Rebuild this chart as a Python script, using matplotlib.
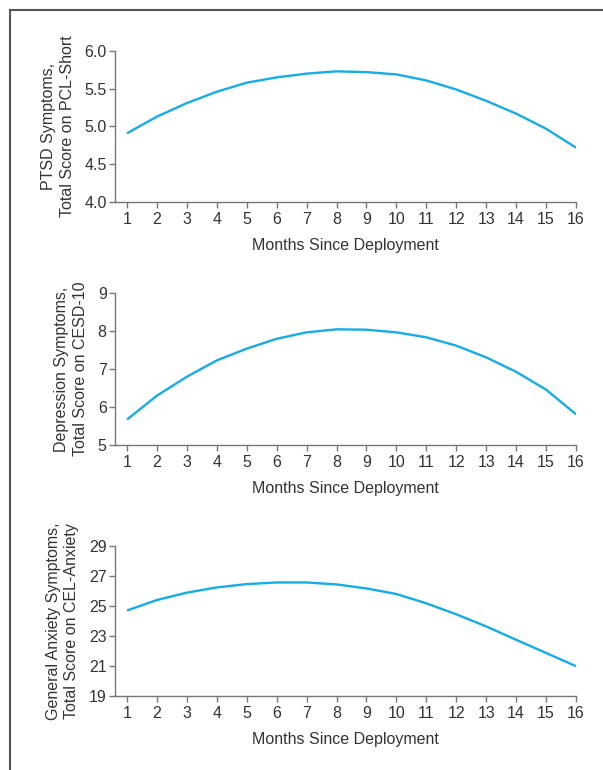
import matplotlib
matplotlib.use('Agg')
import matplotlib.pyplot as plt
from matplotlib.lines import Line2D

plt.rcParams['font.family'] = ['Liberation Sans', 'DejaVu Sans']

months = list(range(1, 17))

ptsd = [4.91, 5.13, 5.31, 5.46, 5.58, 5.65, 5.70, 5.73,
        5.72, 5.69, 5.61, 5.49, 5.34, 5.17, 4.97, 4.72]
depression = [5.67, 6.30, 6.80, 7.23, 7.54, 7.80, 7.97, 8.05,
              8.04, 7.97, 7.84, 7.62, 7.31, 6.93, 6.46, 5.81]
anxiety = [24.70, 25.40, 25.89, 26.24, 26.46, 26.57, 26.57, 26.44,
           26.17, 25.80, 25.18, 24.45, 23.64, 22.75, 21.87, 20.99]

ylabels = ['PTSD Symptoms,\nTotal Score on PCL-Short',
           'Depression Symptoms,\nTotal Score on CESD-10',
           'General Anxiety Symptoms,\nTotal Score on CEL-Anxiety']
yticks = [[4.0, 4.5, 5.0, 5.5, 6.0],
          [5, 6, 7, 8, 9],
          [19, 21, 23, 25, 27, 29]]
yticklabels = [['4.0', '4.5', '5.0', '5.5', '6.0'],
               ['5', '6', '7', '8', '9'],
               ['19', '21', '23', '25', '27', '29']]
series = [ptsd, depression, anxiety]

line_color = '#14ade8'
text_color = '#333333'
spine_color = '#777777'

fig = plt.figure(figsize=(6.03, 7.70), dpi=100)

bottoms = [0.7377, 0.4221, 0.0961]
heights = [0.1961, 0.1970, 0.1948]

for i in range(3):
    ax = fig.add_axes([0.1907, bottoms[i], 0.7645, heights[i]])
    ax.plot(months, series[i], color=line_color, linewidth=1.7,
            solid_capstyle='butt', solid_joinstyle='round')

    ax.set_xlim(0.6, 16)
    ax.set_ylim(yticks[i][0], yticks[i][-1])
    ax.set_xticks(months)
    ax.set_yticks(yticks[i])
    ax.set_yticklabels(yticklabels[i])

    for side in ['top', 'right']:
        ax.spines[side].set_visible(False)
    for side in ['left', 'bottom']:
        ax.spines[side].set_color(spine_color)
        ax.spines[side].set_linewidth(1.0)

    ax.tick_params(axis='both', colors=spine_color, length=4, width=1.0,
                   labelsize=11.5, labelcolor=text_color)
    ax.tick_params(axis='x', pad=3)
    ax.tick_params(axis='y', pad=2)

    ax.set_xlabel('Months Since Deployment', fontsize=11.5,
                  color=text_color, labelpad=8)
    ax.set_ylabel(ylabels[i], fontsize=11.5, color=text_color,
                  labelpad=7, linespacing=1.3)

# frame lines on the left and top of the figure
fig.add_artist(Line2D([9.5 / 603, 9.5 / 603], [0, 1 - 9.5 / 770],
                      transform=fig.transFigure, color='#555555', linewidth=1.5))
fig.add_artist(Line2D([9.5 / 603, 1], [1 - 9.5 / 770, 1 - 9.5 / 770],
                      transform=fig.transFigure, color='#555555', linewidth=1.5))

fig.savefig('out.png', dpi=100)
